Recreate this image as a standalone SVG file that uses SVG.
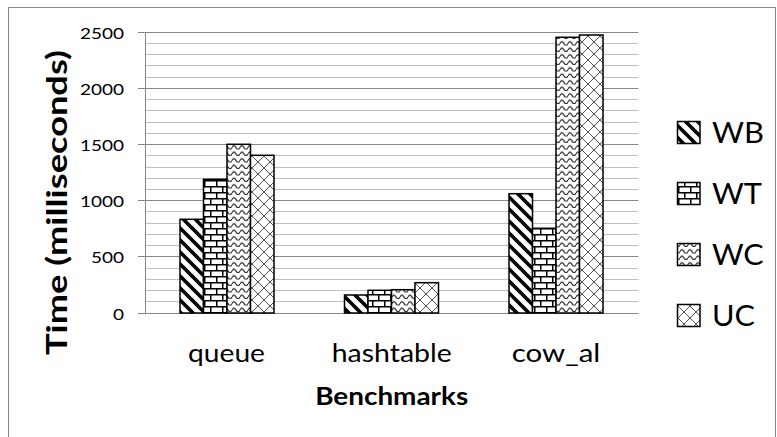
<svg xmlns="http://www.w3.org/2000/svg" width="777" height="437" viewBox="0 0 777 437">
<defs>
<pattern id="pWB" patternUnits="userSpaceOnUse" width="12" height="12">
<rect width="12" height="12" fill="#fff"/>
<path d="M-3,-3 L15,15 M-15,-3 L3,15 M9,-3 L27,15" stroke="#000" stroke-width="3.6"/>
</pattern>
<pattern id="pWT" patternUnits="userSpaceOnUse" width="12" height="12">
<rect width="12" height="12" fill="#fff"/>
<path d="M0,0.75 H12 M0,6.75 H12 M0.75,0 V6.75 M6.75,6.75 V12" stroke="#000" stroke-width="1.5"/>
</pattern>
<pattern id="pWC" patternUnits="userSpaceOnUse" width="8" height="6.5">
<rect width="8" height="6.5" fill="#fff"/>
<path d="M0,4.5 Q2,0.8 4,4.5 T8,4.5" fill="none" stroke="#222" stroke-width="1.1"/>
</pattern>
<pattern id="pUC" patternUnits="userSpaceOnUse" width="12" height="12">
<rect width="12" height="12" fill="#fff"/>
<path d="M0,0 L12,12 M12,0 L0,12" stroke="#555" stroke-width="1"/>
</pattern>
</defs>
<style>
.bar{stroke:#000;stroke-width:1.5}
.minor{stroke:#c0c0c0;stroke-width:1}
.major{stroke:#888;stroke-width:1}
.axis{stroke:#868686;stroke-width:1;fill:none}
.tick{font-family:Lato,"Liberation Sans",sans-serif;font-size:16px;fill:#000;text-anchor:end}
.cat{font-family:Lato,"Liberation Sans",sans-serif;font-size:25px;fill:#000;text-anchor:middle}
.title{font-family:Lato,"Liberation Sans",sans-serif;font-weight:bold;fill:#000;text-anchor:middle}
.leg{font-family:Lato,"Liberation Sans",sans-serif;font-size:29px;fill:#000}
</style>
<rect x="0" y="0" width="777" height="437" fill="#fff"/>
<rect x="8.5" y="7.5" width="767" height="440" fill="none" stroke="#868686" stroke-width="1"/>
<g id="grid">
<path class="minor" d="M145.5,301.5H638.5M145.5,290.5H638.5M145.5,279.5H638.5M145.5,268.5H638.5M145.5,245.5H638.5M145.5,234.5H638.5M145.5,223.5H638.5M145.5,211.5H638.5M145.5,189.5H638.5M145.5,178.5H638.5M145.5,167.5H638.5M145.5,155.5H638.5M145.5,133.5H638.5M145.5,122.5H638.5M145.5,110.5H638.5M145.5,99.5H638.5M145.5,77.5H638.5M145.5,65.5H638.5M145.5,54.5H638.5M145.5,43.5H638.5"/>
<path class="major" d="M145.5,256.5H638.5M145.5,200.5H638.5M145.5,144.5H638.5M145.5,88.5H638.5M145.5,32.5H638.5"/>
</g>
<g id="axes">
<path class="axis" d="M145.5,32.5V313.5H638.5"/>
<path class="axis" d="M138,313.5H145.5M138,256.5H145.5M138,200.5H145.5M138,144.5H145.5M138,88.5H145.5M138,32.5H145.5"/>
<text class="tick" x="124" y="38.5" textLength="44" lengthAdjust="spacingAndGlyphs">2500</text>
<text class="tick" x="124" y="94.5" textLength="44" lengthAdjust="spacingAndGlyphs">2000</text>
<text class="tick" x="124" y="150.5" textLength="44" lengthAdjust="spacingAndGlyphs">1500</text>
<text class="tick" x="124" y="206.5" textLength="44" lengthAdjust="spacingAndGlyphs">1000</text>
<text class="tick" x="124" y="262.5" textLength="33" lengthAdjust="spacingAndGlyphs">500</text>
<text class="tick" x="124" y="319.5" textLength="11" lengthAdjust="spacingAndGlyphs">0</text>
<text class="cat" x="226.5" y="361.5" textLength="77" lengthAdjust="spacingAndGlyphs">queue</text>
<text class="cat" x="391.7" y="361.5" textLength="120" lengthAdjust="spacingAndGlyphs">hashtable</text>
<text class="cat" x="556" y="361.5" textLength="88.6" lengthAdjust="spacingAndGlyphs">cow_al</text>
<text class="title" x="391.7" y="405" font-size="25" textLength="153" lengthAdjust="spacingAndGlyphs">Benchmarks</text>
<text class="title" transform="translate(67,202.5) rotate(-90)" x="0" y="0" font-size="28" textLength="305" lengthAdjust="spacingAndGlyphs">Time (milliseconds)</text>
</g>
<g id="queue">
<rect class="bar" x="180" y="219.3" width="23.5" height="93.7" fill="url(#pWB)"/>
<rect class="bar" x="203.5" y="179.3" width="23.5" height="133.7" fill="url(#pWT)"/>
<rect class="bar" x="227" y="144.3" width="23.5" height="168.7" fill="url(#pWC)"/>
<rect class="bar" x="250.5" y="155.3" width="23.5" height="157.7" fill="url(#pUC)"/>
</g>
<g id="hashtable">
<rect class="bar" x="344.5" y="295" width="23.5" height="18" fill="url(#pWB)"/>
<rect class="bar" x="368" y="290.3" width="23.5" height="22.7" fill="url(#pWT)"/>
<rect class="bar" x="391.5" y="289.7" width="23.5" height="23.3" fill="url(#pWC)"/>
<rect class="bar" x="415" y="282.7" width="23.5" height="30.3" fill="url(#pUC)"/>
</g>
<g id="cow_al">
<rect class="bar" x="509" y="193.7" width="23.5" height="119.3" fill="url(#pWB)"/>
<rect class="bar" x="532.5" y="228.3" width="23.5" height="84.7" fill="url(#pWT)"/>
<rect class="bar" x="556" y="37.3" width="23.5" height="275.7" fill="url(#pWC)"/>
<rect class="bar" x="579.5" y="35" width="23.5" height="278" fill="url(#pUC)"/>
</g>
<g id="legend">
<rect class="bar" x="677.5" y="121.5" width="22.5" height="22" fill="url(#pWB)"/>
<text class="leg" x="712" y="142.5" textLength="52" lengthAdjust="spacingAndGlyphs">WB</text>
<rect class="bar" x="677.5" y="182.5" width="22.5" height="22" fill="url(#pWT)"/>
<text class="leg" x="712" y="203.5" textLength="50" lengthAdjust="spacingAndGlyphs">WT</text>
<rect class="bar" x="677.5" y="243.5" width="22.5" height="22" fill="url(#pWC)"/>
<text class="leg" x="712" y="264.5" textLength="51.7" lengthAdjust="spacingAndGlyphs">WC</text>
<rect class="bar" x="677.5" y="304.5" width="22.5" height="22" fill="url(#pUC)"/>
<text class="leg" x="712" y="325.5" textLength="43" lengthAdjust="spacingAndGlyphs">UC</text>
</g>
</svg>
